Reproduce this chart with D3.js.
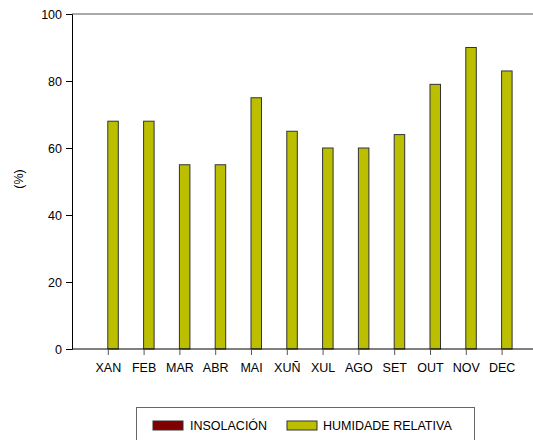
<!DOCTYPE html>
<html><head><meta charset="utf-8">
<script src="https://cdn.jsdelivr.net/npm/d3@7"></script>
<style>body{margin:0;background:#fff}svg{display:block}text{font-family:"Liberation Sans",Arial,sans-serif}</style>
</head><body>
<script>
const months = ["XAN","FEB","MAR","ABR","MAI","XUÑ","XUL","AGO","SET","OUT","NOV","DEC"];
const insolacion = [0,0,0,0,0,0,0,0,0,0,0,0];
const humidade = [68,68,55,55,75,65,60,60,64,79,90,83];
const yTicks = [0,20,40,60,80,100];
const seriesNames = ["INSOLACIÓN","HUMIDADE RELATIVA"];
const seriesColors = ["#800000","#BBBF00"];

(function(){
const W=533,H=440;
const svg=d3.select("body").append("svg").attr("width",W).attr("height",H);
const pLeft=72, pTop=14, pBottom=349;
const step=35.8;
const fs="12.5px";
const x=d3.scalePoint().domain(["",...months,"_"]).range([pLeft,pLeft+13*step]);
const y=d3.scaleLinear().domain([0,100]).range([pBottom,pTop]);
const bw=10.5;

svg.append("line").attr("x1",pLeft).attr("x2",W).attr("y1",y(100)).attr("y2",y(100)).attr("stroke","#555").attr("stroke-width",1);

const g=svg.append("g");
g.selectAll(".h").data(months).enter().append("rect")
 .attr("x",d=>x(d)).attr("width",bw)
 .attr("y",(d,i)=>y(humidade[i])).attr("height",(d,i)=>y(0)-y(humidade[i]))
 .attr("fill",seriesColors[1]).attr("stroke","#333").attr("stroke-width",1);
g.selectAll(".i").data(months).enter().append("rect")
 .attr("x",d=>x(d)-bw).attr("width",bw)
 .attr("y",(d,i)=>y(insolacion[i])).attr("height",(d,i)=>y(0)-y(insolacion[i]))
 .attr("fill",seriesColors[0]);

const ya=svg.append("g").attr("transform",`translate(${pLeft},0)`)
 .call(d3.axisLeft(y).tickValues(yTicks).tickSize(6).tickPadding(4));
ya.select(".domain").attr("stroke","#000");
ya.selectAll("text").attr("font-size",fs).attr("fill","#000").style("font-family","Liberation Sans, Arial, sans-serif");

const xa=svg.append("g").attr("transform",`translate(0,${pBottom})`)
 .call(d3.axisBottom(x).tickValues(months).tickSize(6).tickPadding(8).tickSizeOuter(0));
xa.select(".domain").attr("stroke","#000").attr("d",`M${pLeft},0H${W}`);
xa.selectAll(".tick line").attr("stroke","#555");
xa.selectAll("text").attr("font-size",fs).attr("fill","#000").style("font-family","Liberation Sans, Arial, sans-serif");

svg.append("text").attr("transform","translate(23,179) rotate(-90)").attr("text-anchor","middle")
 .attr("font-size",fs).attr("fill","#000").text("(%)");

svg.append("rect").attr("x",136.5).attr("y",407.5).attr("width",338).attr("height",40)
 .attr("fill","none").attr("stroke","#666");
const lx=[153,287], tx=[190,323];
seriesNames.forEach((n,i)=>{
  svg.append("rect").attr("x",lx[i]).attr("y",421).attr("width",30).attr("height",9)
   .attr("fill",seriesColors[i]).attr("stroke","#333").attr("stroke-width",1);
  svg.append("text").attr("x",tx[i]).attr("y",430).attr("font-size",fs).attr("fill","#000").text(n);
});
})();
</script>
</body></html>
